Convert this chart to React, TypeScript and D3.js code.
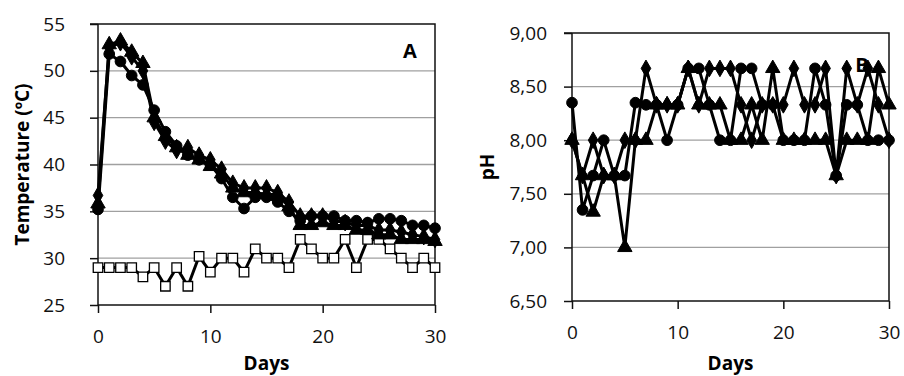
import * as d3 from "d3";
import { useEffect, useRef } from "react";

const days = d3.range(0, 31);

// panel A - temperature
const tempCircle = [35.2, 51.8, 51, 49.5, 48.5, 45.8, 43.5, 42, 41, 40.5, 40, 38.5, 36.5, 35.3, 36.5, 36.5, 36, 35, 34, 34.5, 34.5, 34.5, 34, 34, 33.8, 34.2, 34.2, 34, 33.5, 33.5, 33.2];
const tempDiamond = [36.7, 52.5, 53, 51.5, 50, 44.5, 42.5, 41.5, 41.8, 41, 40.5, 39.5, 38, 37.5, 37.5, 37.5, 37, 36, 34.5, 34.5, 34.5, 34, 33.8, 33.5, 33.5, 33, 33, 32.8, 32.5, 32.3, 32];
const tempTriangle = [35.8, 52.8, 53.2, 52, 50.8, 45, 43, 41.8, 41, 40.5, 39.8, 39, 37.5, 37, 37, 36.8, 36.8, 35.5, 33.5, 33.5, 33.8, 33.5, 33.5, 33, 33, 32.5, 32.5, 32, 32, 32, 31.8];
const tempAmbient = [29, 29, 29, 29, 28, 29, 27, 29, 27, 30.2, 28.5, 30, 30, 28.5, 31, 30, 30, 29, 32, 31, 30, 30, 32, 29, 32, 32, 31, 30, 29, 30, 29];
const tempTicks = [25, 30, 35, 40, 45, 50, 55];

// panel B - pH
const phCircle = [8.35, 7.35, 7.67, 8.0, 7.67, 7.67, 8.35, 8.33, 8.33, 8.0, 8.33, 8.67, 8.67, 8.33, 8.0, 8.0, 8.67, 8.67, 8.33, 8.33, 8.0, 8.0, 8.0, 8.67, 8.33, 7.67, 8.33, 8.33, 8.0, 8.0, 8.0];
const phDiamond = [8.0, 7.67, 8.0, 7.67, 7.67, 8.0, 8.0, 8.67, 8.33, 8.33, 8.33, 8.67, 8.33, 8.67, 8.67, 8.67, 8.33, 8.0, 8.33, 8.33, 8.33, 8.67, 8.33, 8.33, 8.67, 7.67, 8.67, 8.33, 8.67, 8.33, 8.0];
const phTriangle = [8.0, 7.67, 7.33, 7.67, 7.67, 7.0, 8.0, 8.0, 8.33, 8.33, 8.33, 8.67, 8.33, 8.33, 8.33, 8.0, 8.0, 8.33, 8.0, 8.67, 8.0, 8.0, 8.0, 8.0, 8.0, 7.67, 8.0, 8.0, 8.0, 8.67, 8.33];
const phTicks = [6.5, 7.0, 7.5, 8.0, 8.5, 9.0];

const xTicks = [0, 10, 20, 30];

const font = "'Open Sans', sans-serif";

type Series = { values: number[]; shape: string; fill: string };

function drawPanel(
  svg: any,
  opts: {
    x0: number; x1: number; yTop: number; yBot: number; yPad: number;
    domain: [number, number]; ticks: number[]; fmt: (v: number) => string;
    series: Series[]; title: string; titleX: number; letter: string; lx: number; ly: number;
  }
) {
  const x = d3.scaleLinear().domain([0, 30]).range([opts.x0, opts.x1]);
  const y = d3.scaleLinear().domain(opts.domain).range([opts.yBot, opts.yTop]);
  const g = svg.append("g");

  // gridlines
  g.selectAll(".grid")
    .data(opts.ticks.slice(1, -1))
    .enter()
    .append("line")
    .attr("x1", opts.x0).attr("x2", opts.x1)
    .attr("y1", (d: number) => y(d)).attr("y2", (d: number) => y(d))
    .attr("stroke", "#a0a0a0").attr("stroke-width", 1.3);

  // frame top/right
  g.append("path")
    .attr("d", `M${opts.x0 - 8},${opts.yTop}H${opts.x1}V${opts.yBot}`)
    .attr("fill", "none").attr("stroke", "#111").attr("stroke-width", 1.5);

  // axes
  const xa = g.append("g")
    .attr("transform", `translate(0,${opts.yBot})`)
    .call(d3.axisBottom(x).tickValues(xTicks).tickSize(8).tickPadding(17).tickFormat(d3.format("d")));
  const ya = g.append("g")
    .attr("transform", `translate(${opts.x0},0)`)
    .call(d3.axisLeft(y).tickValues(opts.ticks).tickSize(8).tickPadding(opts.yPad).tickFormat(opts.fmt as any));
  [xa, ya].forEach((a) => {
    a.select(".domain").attr("stroke", "#111").attr("stroke-width", 1.5);
    a.selectAll(".tick line").attr("stroke", "#111").attr("stroke-width", 1.5);
    a.selectAll("text").attr("font-family", font).attr("font-size", 19).attr("fill", "#111");
  });
  xa.select(".domain").attr("d", `M${opts.x0},0H${opts.x1}`);
  ya.select(".domain").attr("d", `M0,${opts.yBot}V${opts.yTop}`);

  const line = d3.line<number>().x((_, i) => x(days[i])).y((d) => y(d));
  const sym: Record<string, any> = {
    circle: d3.symbol(d3.symbolCircle, 90),
    diamond: d3.symbol(d3.symbolDiamond, 80),
    triangle: d3.symbol(d3.symbolTriangle, 90),
    square: d3.symbol(d3.symbolSquare, 90),
  };

  opts.series.forEach((s) => {
    g.append("path")
      .attr("d", line(s.values))
      .attr("fill", "none").attr("stroke", "#000").attr("stroke-width", 3)
      .attr("stroke-linejoin", "round");
    g.selectAll(null)
      .data(s.values)
      .enter()
      .append("path")
      .attr("d", sym[s.shape]())
      .attr("transform", (d: number, i: number) => `translate(${x(days[i])},${y(d)})`)
      .attr("fill", s.fill)
      .attr("stroke", "#000")
      .attr("stroke-width", s.shape === "square" ? 1.3 : 1);
  });

  // labels
  svg.append("text")
    .attr("x", (opts.x0 + opts.x1) / 2).attr("y", 370)
    .attr("text-anchor", "middle").attr("font-family", font)
    .attr("font-weight", "bold").attr("font-size", 19).text("Days");
  svg.append("text")
    .attr("transform", `translate(${opts.titleX},${(opts.yTop + opts.yBot) / 2}) rotate(-90)`)
    .attr("text-anchor", "middle").attr("font-family", font)
    .attr("font-weight", "bold").attr("font-size", 19).text(opts.title);
  svg.append("text")
    .attr("x", opts.lx).attr("y", opts.ly)
    .attr("text-anchor", "middle").attr("font-family", font)
    .attr("font-weight", "bold").attr("font-size", 20).text(opts.letter);
}

export default function App() {
  const ref = useRef<SVGSVGElement>(null);

  useEffect(() => {
    const svg = d3.select(ref.current);
    svg.selectAll("*").remove();

    drawPanel(svg, {
      x0: 98, x1: 435, yTop: 24, yBot: 305, yPad: 25,
      domain: [25, 55], ticks: tempTicks, fmt: d3.format("d"),
      series: [
        { values: tempAmbient, shape: "square", fill: "#fff" },
        { values: tempCircle, shape: "circle", fill: "#000" },
        { values: tempDiamond, shape: "diamond", fill: "#000" },
        { values: tempTriangle, shape: "triangle", fill: "#000" },
      ],
      title: "Temperature (ºC)", titleX: 29, letter: "A", lx: 410, ly: 58,
    });

    drawPanel(svg, {
      x0: 572, x1: 889, yTop: 33, yBot: 301, yPad: 17,
      domain: [6.5, 9.0], ticks: phTicks, fmt: (v: number) => v.toFixed(2).replace(".", ","),
      series: [
        { values: phCircle, shape: "circle", fill: "#000" },
        { values: phDiamond, shape: "diamond", fill: "#000" },
        { values: phTriangle, shape: "triangle", fill: "#000" },
      ],
      title: "pH", titleX: 494, letter: "B", lx: 862, ly: 72,
    });
  }, []);

  return (
    <svg
      ref={ref}
      width={904}
      height={376}
      style={{ position: "absolute", left: 0, top: 0, background: "#fff" }}
    />
  );
}
